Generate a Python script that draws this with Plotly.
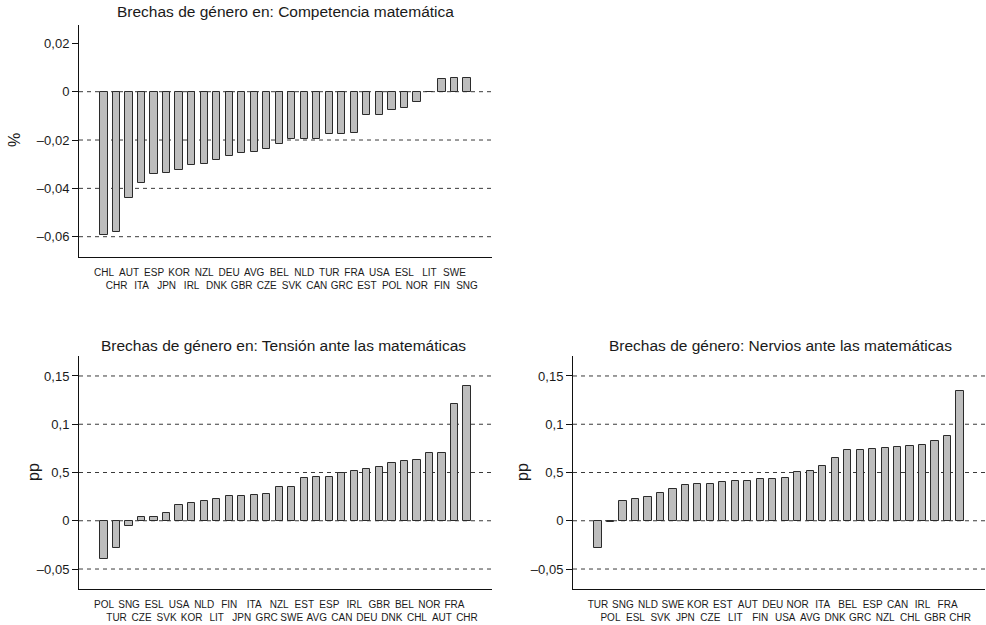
import plotly.graph_objects as go

# --- data -------------------------------------------------------------
comp_countries = ["CHL", "CHR", "AUT", "ITA", "ESP", "JPN", "KOR", "IRL", "NZL", "DNK",
                  "DEU", "GBR", "AVG", "CZE", "BEL", "SVK", "NLD", "CAN", "TUR", "GRC",
                  "FRA", "EST", "USA", "POL", "ESL", "NOR", "LIT", "FIN", "SWE", "SNG"]
comp_values = [-0.0593, -0.0582, -0.0439, -0.0379, -0.0341, -0.0335, -0.0326, -0.0305, -0.0301, -0.0281,
               -0.0265, -0.0255, -0.0250, -0.0237, -0.0218, -0.0197, -0.0197, -0.0197, -0.0177, -0.0177,
               -0.0172, -0.0098, -0.0097, -0.0077, -0.0068, -0.0041, 0.0, 0.0052, 0.0058, 0.0058]

tens_countries = ["POL", "TUR", "SNG", "CZE", "ESL", "SVK", "USA", "KOR", "NLD", "LIT",
                  "FIN", "JPN", "ITA", "GRC", "NZL", "SWE", "EST", "AVG", "ESP", "CAN",
                  "IRL", "DEU", "GBR", "DNK", "BEL", "CHL", "NOR", "AUT", "FRA", "CHR"]
tens_values = [-0.0393, -0.0286, -0.0052, 0.0034, 0.0034, 0.0083, 0.0159, 0.0179, 0.0207, 0.0221,
               0.0252, 0.0252, 0.0272, 0.0279, 0.0352, 0.0352, 0.0438, 0.0455, 0.0455, 0.0490,
               0.0517, 0.0538, 0.0562, 0.0600, 0.0621, 0.0634, 0.0707, 0.0707, 0.1214, 0.1400]

nerv_countries = ["TUR", "POL", "SNG", "ESL", "NLD", "SVK", "SWE", "JPN", "KOR", "CZE",
                  "EST", "LIT", "AUT", "FIN", "DEU", "USA", "NOR", "AVG", "ITA", "DNK",
                  "BEL", "GRC", "ESP", "NZL", "CAN", "CHL", "IRL", "GBR", "FRA", "CHR"]
nerv_values = [-0.0286, -0.0017, 0.0207, 0.0221, 0.0248, 0.0283, 0.0331, 0.0366, 0.0376, 0.0376,
               0.0400, 0.0407, 0.0407, 0.0428, 0.0434, 0.0448, 0.0510, 0.0517, 0.0572, 0.0648,
               0.0738, 0.0738, 0.0748, 0.0755, 0.0769, 0.0779, 0.0790, 0.0828, 0.0883, 0.1348]

comp_tickvals = [0.02, 0, -0.02, -0.04, -0.06]
comp_ticktext = ["0,02", "0", "\u20130,02", "\u20130,04", "\u20130,06"]
comp_gridvals = [0, -0.02, -0.04, -0.06]

anx_tickvals = [0.15, 0.1, 0.05, 0, -0.05]
anx_ticktext = ["0,15", "0,1", "0,5", "0", "\u20130,05"]
anx_gridvals = [0.15, 0.1, 0.05, 0, -0.05]

titles = ["Brechas de género en: Competencia matemática",
          "Brechas de género en: Tensión ante las matemáticas",
          "Brechas de género: Nervios ante las matemáticas"]
ytitles = ["%", "pp", "pp"]

# --- styling ------------------------------------------------------------
W, H = 986, 625
FONT = "Liberation Sans, Arial, Helvetica, sans-serif"
TXT = "#1a1a1a"
BAR_FILL = "#bdbdbd"
BAR_LINE = "#2b2b2b"

fig = go.Figure()

panels = [
    # (suffix, countries, values, x-domain px, y-domain px, y-range, ticks, grid)
    ("", comp_countries, comp_values, (79, 492), (25, 257), (-0.0684, 0.0276),
     comp_tickvals, comp_ticktext, comp_gridvals),
    ("2", tens_countries, tens_values, (79, 492), (356, 589), (-0.0707, 0.1707),
     anx_tickvals, anx_ticktext, anx_gridvals),
    ("3", nerv_countries, nerv_values, (573, 985), (356, 589), (-0.0707, 0.1707),
     anx_tickvals, anx_ticktext, anx_gridvals),
]


def staggered(labels):
    # alternate labels drop to a second row
    return [lab if i % 2 == 0 else "<br>" + lab for i, lab in enumerate(labels)]


for k, (sfx, cats, vals, xd, yd, yr, tv, tt, gv) in enumerate(panels):
    xa = "x" + sfx
    ya = "y" + sfx
    idx = list(range(len(cats)))
    fig.add_trace(go.Bar(
        x=idx, y=vals, xaxis=xa, yaxis=ya, width=0.58,
        marker=dict(color=BAR_FILL, line=dict(color=BAR_LINE, width=1)),
        showlegend=False, hoverinfo="skip",
    ))
    fig.layout["xaxis" + sfx] = dict(
        domain=[xd[0] / W, xd[1] / W], anchor=ya, range=[-2, 31],
        tickmode="array", tickvals=idx, ticktext=staggered(cats),
        tickangle=0, ticks="", ticklabelstandoff=6,
        tickfont=dict(family=FONT, size=10, color=TXT),
        showline=True, linecolor="#111", linewidth=1,
        showgrid=False, zeroline=False, fixedrange=True,
    )
    fig.layout["yaxis" + sfx] = dict(
        domain=[1 - yd[1] / H, 1 - yd[0] / H], anchor=xa, range=list(yr),
        tickmode="array", tickvals=tv, ticktext=tt,
        ticks="outside", ticklen=6, tickcolor="#111", tickwidth=1,
        tickfont=dict(family=FONT, size=13, color=TXT),
        showline=True, linecolor="#111", linewidth=1,
        showgrid=False, zeroline=False, fixedrange=True,
    )
    for g in gv:
        fig.add_shape(type="line", xref=xa + " domain", yref=ya,
                      x0=0, x1=1, y0=g, y1=g, layer="below",
                      line=dict(color="#3a3a3a", width=1, dash="4px,4px"))

# panel titles
title_pos = [(285, 12), (283, 345), (780, 345)]
for t, (px, py) in zip(titles, title_pos):
    fig.add_annotation(text=t, xref="paper", yref="paper", x=px / W, y=1 - py / H,
                       xanchor="center", yanchor="middle", showarrow=False,
                       font=dict(family=FONT, size=15.5, color=TXT))

# y-axis titles
ytitle_pos = [(15, 140), (33, 472), (522, 472)]
for t, (px, py) in zip(ytitles, ytitle_pos):
    fig.add_annotation(text=t, xref="paper", yref="paper", x=px / W, y=1 - py / H,
                       xanchor="center", yanchor="middle", showarrow=False, textangle=-90,
                       font=dict(family=FONT, size=16, color=TXT))

fig.update_layout(
    width=W, height=H, margin=dict(l=0, r=0, t=0, b=0),
    paper_bgcolor="white", plot_bgcolor="white",
    bargap=0, showlegend=False,
)

fig.write_html("out.html")
